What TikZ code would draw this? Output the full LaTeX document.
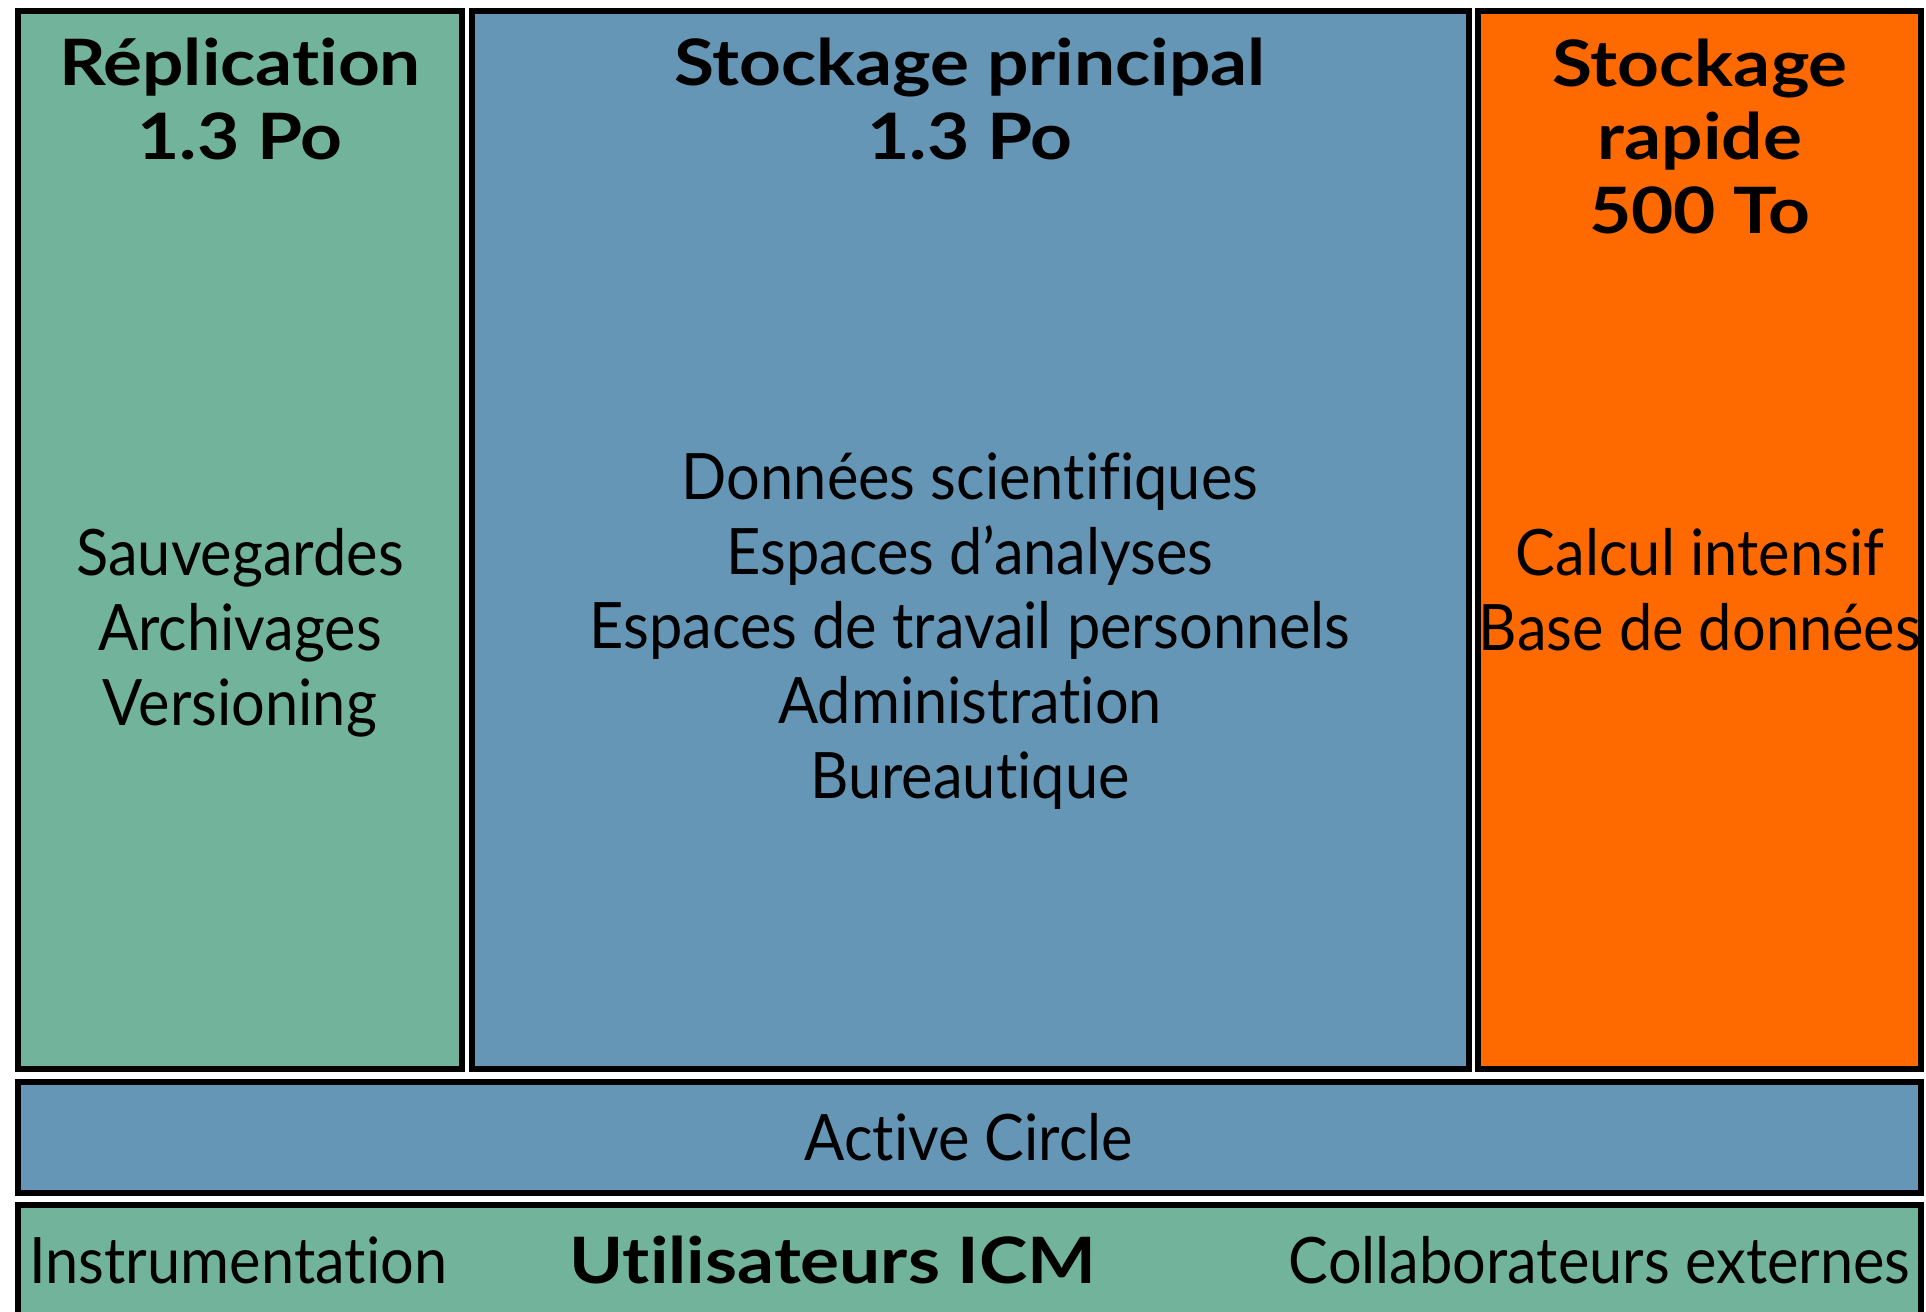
\documentclass[tikz,border=0pt]{standalone}
\usepackage{fontspec}
\setmainfont{Lato}[FakeStretch=0.93,Ligatures=NoCommon]
\newfontfamily\ttlfont{Lato}[FakeStretch=1.14,Ligatures=NoCommon]
\definecolor{cgreen}{HTML}{72B49B}
\definecolor{cblue}{HTML}{6596B6}
\definecolor{corange}{HTML}{FF6A00}
\begin{document}
\begin{tikzpicture}[x=0.5pt,y=-0.5pt,
  box/.style={draw=black,line width=3pt,inner sep=0pt,rectangle},
  ttl/.style={font=\fontsize{32pt}{36.7pt}\selectfont\ttlfont\bfseries,align=center,anchor=base,inner sep=0pt},
  txt/.style={font=\fontsize{32pt}{37.3pt}\selectfont,align=center,anchor=base,inner sep=0pt}]
\useasboundingbox (0,0) rectangle (1926,1311);
\node[box,fill=cgreen,minimum width=222pt,minimum height=529pt] (repl) at (240,540) {};
\node[box,fill=cblue,minimum width=498.5pt,minimum height=529pt] (main) at (970.5,540) {};
\node[box,fill=corange,minimum width=221.5pt,minimum height=529pt] (fast) at (1699.5,540) {};
\node[box,fill=cblue,minimum width=951.5pt,minimum height=55.5pt] (ac) at (969.5,1137.5) {};
\node[box,fill=cgreen,minimum width=951.5pt,minimum height=67.5pt] (users) at (969.5,1272.5) {};
\node[ttl] (t1) at (240,159) {Réplication\\1.3 Po};
\node[ttl] (t2) at (970,159) {Stockage principal\\1.3 Po};
\node[ttl] (t3) at (1700,233) {Stockage\\rapide\\500 To};
\node[txt] (b1) at (240,725) {Sauvegardes\\Archivages\\Versioning};
\node[txt] (b2) at (970,798) {Données scientifiques\\Espaces d’analyses\\Espaces de travail personnels\\Administration\\Bureautique};
\node[txt] (b3) at (1700,650) {Calcul intensif\\Base de données};
\node[txt] (acl) at (969,1160) {Active Circle};
\node[txt,anchor=base west] (u1) at (29,1283) {Instrumentation};
\node[ttl] (u2) at (833,1283) {Utilisateurs ICM};
\node[txt,anchor=base east] (u3) at (1911,1283) {Collaborateurs externes};
\end{tikzpicture}
\end{document}
